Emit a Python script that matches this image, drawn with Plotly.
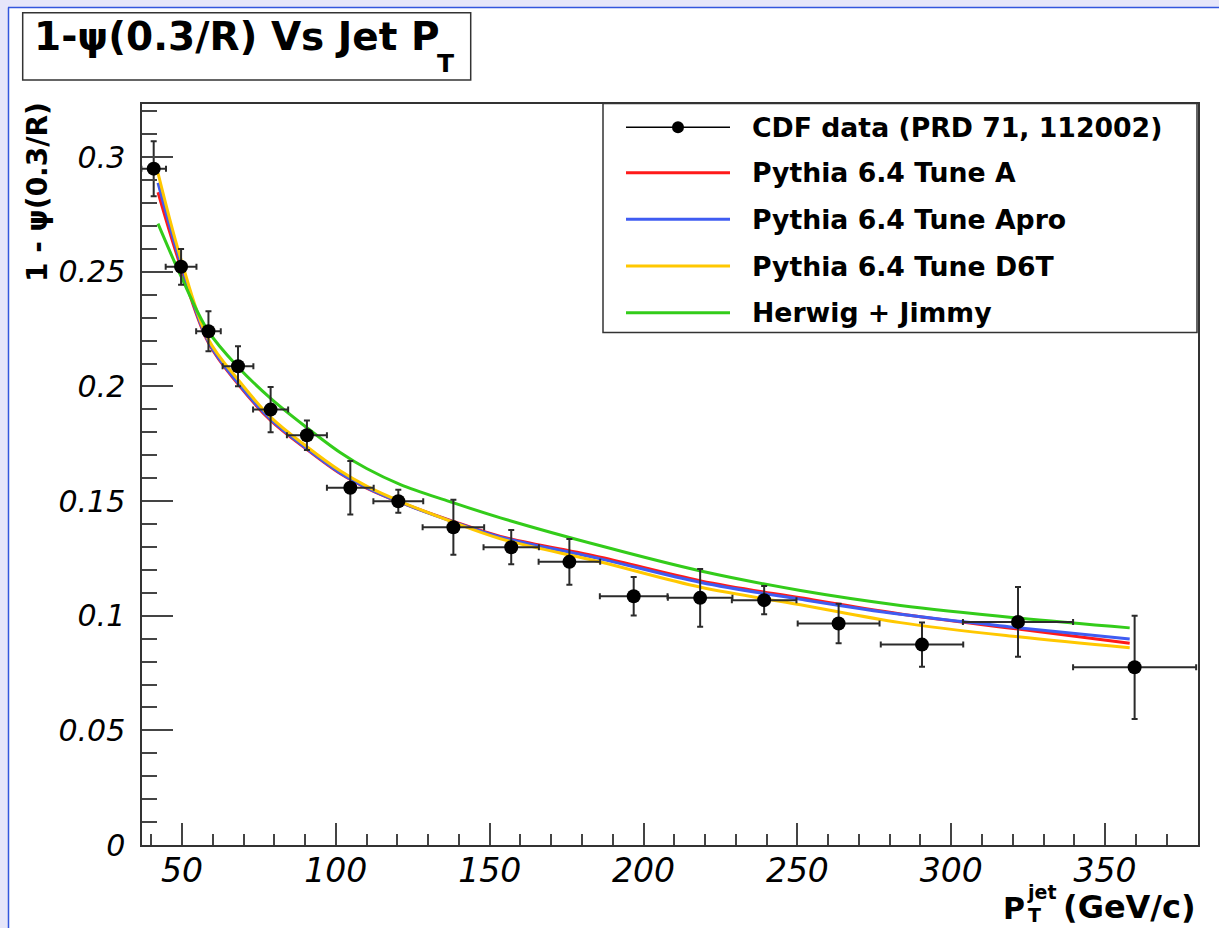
import plotly.graph_objects as go

# ---------------- data ----------------
cdf_x = [40.8, 49.7, 58.6, 68.2, 78.8, 90.6, 104.7, 120.3, 138.2, 157.0, 175.9,
         196.8, 218.4, 239.2, 263.4, 290.5, 321.7, 359.6]
cdf_y = [0.2950, 0.2522, 0.2241, 0.2088, 0.1899, 0.1787, 0.1558, 0.1499, 0.1386,
         0.1299, 0.1235, 0.1085, 0.1078, 0.1068, 0.0966, 0.0874, 0.0973, 0.0775]
cdf_ey = [0.012, 0.0078, 0.0087, 0.0087, 0.0099, 0.0064, 0.0117, 0.005, 0.012,
          0.0075, 0.010, 0.0084, 0.0126, 0.0062, 0.0086, 0.0097, 0.0152, 0.0225]
cdf_ex = [4.0, 5.0, 4.0, 5.0, 5.7, 6.5, 7.6, 8.1, 10.0, 9.0, 10.0,
          11.0, 10.5, 10.5, 13.3, 13.4, 17.9, 20.0]

mc_x = [42.2, 49.7, 58.6, 68.2, 78.8, 90.6, 101.4, 110.0, 121.0, 137.0, 153.5,
        186.0, 218.6, 251.0, 283.5, 321.7, 358.0]
tune_a = [0.2847, 0.2517, 0.2190, 0.2010, 0.1852, 0.1725, 0.1620, 0.1557, 0.1494,
          0.1417, 0.1346, 0.1255, 0.1152, 0.1078, 0.1008, 0.0942, 0.0880]
tune_apro = [0.2888, 0.2532, 0.2195, 0.2015, 0.1856, 0.1728, 0.1623, 0.1559, 0.1494,
             0.1415, 0.1343, 0.1248, 0.1145, 0.1072, 0.1006, 0.0948, 0.0899]
tune_d6t = [0.2931, 0.2553, 0.2205, 0.2030, 0.1866, 0.1737, 0.1632, 0.1565, 0.1498,
            0.1414, 0.1336, 0.1234, 0.1124, 0.1048, 0.0970, 0.0908, 0.0860]
herwig = [0.2710, 0.2480, 0.2240, 0.2085, 0.1948, 0.1820, 0.1712, 0.1642, 0.1572,
          0.1498, 0.1427, 0.1305, 0.1195, 0.1110, 0.1045, 0.0990, 0.0947]

series_names = ["CDF data (PRD 71, 112002)", "Pythia 6.4 Tune A",
                "Pythia 6.4 Tune Apro", "Pythia 6.4 Tune D6T", "Herwig + Jimmy"]
series_colors = ["#000000", "#ff1a1a", "#3f5cf2", "#ffc800", "#33cc1a"]

x_ticks = [50, 100, 150, 200, 250, 300, 350]
y_ticks = [0, 0.05, 0.1, 0.15, 0.2, 0.25, 0.3]
x_range = [37, 380.2]
y_range = [0, 0.3232]

# ---------------- layout geometry (pixels) ----------------
W, H = 1219, 928
ML, MR, MT, MB = 142, 21, 104, 83
PW, PH = W - ML - MR, H - MT - MB


def px(x):
    return (x - ML) / PW


def py(y):
    return (H - MB - y) / PH


FONT = "DejaVu Sans"
fig = go.Figure()

mc_series = [tune_a, tune_apro, tune_d6t, herwig]
for name, col, ys in zip(series_names[1:], series_colors[1:], mc_series):
    fig.add_trace(go.Scatter(
        x=mc_x, y=ys, mode="lines", name=name,
        line=dict(color=col, width=3, shape="spline", smoothing=1.0),
        showlegend=False, hoverinfo="skip"))

fig.add_trace(go.Scatter(
    x=cdf_x, y=cdf_y, mode="markers", name=series_names[0],
    marker=dict(color="#000000", size=14),
    error_y=dict(type="data", array=cdf_ey, color="#2b2b2b", thickness=2, width=3),
    error_x=dict(type="data", array=cdf_ex, color="#2b2b2b", thickness=2, width=3),
    showlegend=False))

shapes = []
annotations = []

# canvas: lavender edge strips with blue line, white body
shapes.append(dict(type="rect", xref="paper", yref="paper", layer="below",
                   x0=px(9), x1=px(W + 5), y0=py(8), y1=py(H + 5),
                   fillcolor="white", line=dict(width=0)))
shapes.append(dict(type="line", xref="paper", yref="paper",
                   x0=px(8), x1=px(W + 5), y0=py(7.5), y1=py(7.5),
                   line=dict(color="#3356dd", width=1.5)))
shapes.append(dict(type="line", xref="paper", yref="paper",
                   x0=px(8.5), x1=px(8.5), y0=py(7.5), y1=py(H + 5),
                   line=dict(color="#3356dd", width=1.5)))

# title box
shapes.append(dict(type="rect", xref="paper", yref="paper",
                   x0=px(22.7), x1=px(470.7), y0=py(12.7), y1=py(80),
                   fillcolor="white", line=dict(color="#333333", width=1.5)))


def text(t, x, y, size, xanchor="left", yanchor="middle", angle=0, bold=True):
    s = "<b>" + t + "</b>" if bold else t
    annotations.append(dict(text=s, xref="paper", yref="paper", x=px(x), y=py(y),
                            xanchor=xanchor, yanchor=yanchor, showarrow=False,
                            textangle=angle, borderpad=0,
                            font=dict(family=FONT, size=size, color="black")))


text("1-ψ(0.3/R) Vs Jet P", 33, 37, 39)
text("T", 436, 64, 25)

# axis titles
text("1 - ψ(0.3/R)", 37.5, 192.5, 28, xanchor="center", angle=-90)
text("P", 1014, 908, 30, xanchor="center")
text("jet", 1026, 892, 19)
text("T", 1027, 915, 19)
text("(GeV/c)", 1197, 907, 32, xanchor="right")

# legend box
shapes.append(dict(type="rect", xref="paper", yref="paper",
                   x0=px(603), x1=px(1197), y0=py(103.5), y1=py(332.5),
                   fillcolor="white", line=dict(color="#333333", width=1.5)))
rows = [127.3, 172.7, 219.3, 266.0, 312.7]
for i, (name, col) in enumerate(zip(series_names, series_colors)):
    yy = rows[i]
    shapes.append(dict(type="line", xref="paper", yref="paper",
                       x0=px(626), x1=px(730), y0=py(yy), y1=py(yy),
                       line=dict(color=col, width=1.5 if i == 0 else 3)))
    if i == 0:
        shapes.append(dict(type="circle", xref="paper", yref="paper",
                           x0=px(672), x1=px(684), y0=py(yy - 6), y1=py(yy + 6),
                           fillcolor="black", line=dict(color="black", width=0)))
    text(name, 751, yy, 26.7)

fig.update_layout(
    width=W, height=H,
    margin=dict(l=ML, r=MR, t=MT, b=MB, pad=0),
    paper_bgcolor="#e6e6fa",
    plot_bgcolor="white",
    showlegend=False,
    shapes=shapes,
    annotations=annotations,
    font=dict(family=FONT, color="black"),
)

fig.update_xaxes(
    range=x_range, showgrid=False, zeroline=False,
    showline=True, linecolor="#333333", linewidth=1.5, mirror=True,
    ticks="inside", ticklen=22, tickwidth=1.5, tickcolor="#444444",
    minor=dict(ticks="inside", ticklen=11, tickwidth=1.5, tickcolor="#444444",
               tick0=0, dtick=10, showgrid=False),
    tickfont=dict(family=FONT, size=33, color="black"),
    ticklabelstandoff=-4,
    tickvals=x_ticks, ticktext=["<i>%g</i>" % v for v in x_ticks],
)
fig.update_yaxes(
    range=y_range, showgrid=False, zeroline=False,
    showline=True, linecolor="#333333", linewidth=1.5, mirror=True,
    ticks="inside", ticklen=31, tickwidth=1.5, tickcolor="#444444",
    minor=dict(ticks="inside", ticklen=15, tickwidth=1.5, tickcolor="#444444",
               tick0=0, dtick=0.01, showgrid=False),
    tickfont=dict(family=FONT, size=30, color="black"),
    ticklabelstandoff=9,
    tickvals=y_ticks, ticktext=["<i>%g</i>" % v for v in y_ticks],
)

fig.write_html("out.html")
